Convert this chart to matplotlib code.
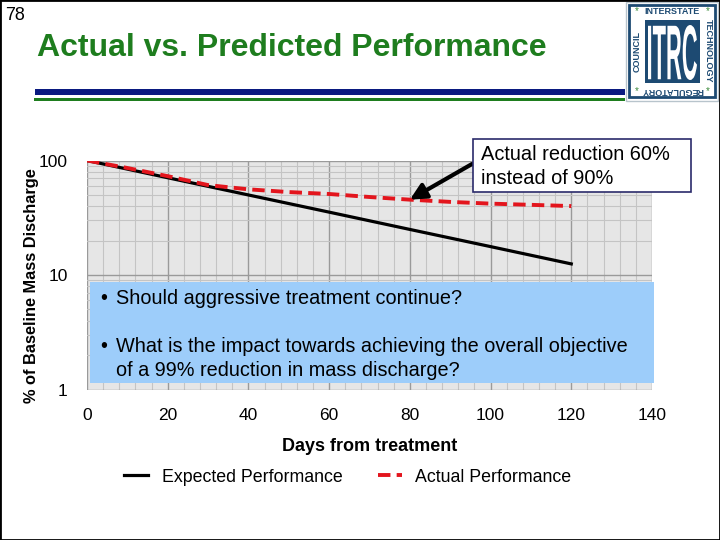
import matplotlib
matplotlib.use("Agg")
import matplotlib.pyplot as plt
from matplotlib.patches import Rectangle, PathPatch
from matplotlib.textpath import TextPath
from matplotlib.font_manager import FontProperties
from matplotlib.transforms import Affine2D
import numpy as np

plt.rcParams['font.family'] = ['Liberation Sans', 'DejaVu Sans']

# data
days_expected = [0, 20, 40, 60, 80, 100, 120]
expected = [100, 70.7, 50, 35.4, 25, 17.7, 12.5]

days_actual = [0, 10, 20, 30, 40, 50, 60, 70, 80, 90, 100, 110, 120]
actual = [100, 86, 73, 61, 56, 53, 51, 48, 45.5, 43.5, 42, 41, 40]

x_ticks = [0, 20, 40, 60, 80, 100, 120, 140]
y_ticks = [1, 10, 100]

W, H = 720, 540
fig = plt.figure(figsize=(7.2, 5.4), dpi=100)


def fx(px):
    return px / W


def fy(py):
    return 1 - py / H


# plot area
ax = fig.add_axes([fx(87), fy(389.5), fx(652 - 87), (389.5 - 160.5) / H])
ax.set_facecolor('#e6e6e6')
ax.set_yscale('log')
ax.set_xlim(0, 140)
ax.set_ylim(1, 100)
ax.set_xticks(x_ticks)
ax.set_xticks(np.arange(0, 141, 4), minor=True)
ax.set_yticks(y_ticks)
ax.set_yticklabels([str(v) for v in y_ticks])
ax.yaxis.set_minor_formatter(plt.NullFormatter())
ax.grid(which='minor', color='#c4c4c4', lw=0.8)
ax.grid(which='major', color='#9a9a9a', lw=1.0)
ax.set_axisbelow(True)
for s in ax.spines.values():
    s.set_visible(False)
ax.tick_params(which='both', length=0)
ax.tick_params(axis='y', labelsize=12.5, pad=14)
ax.tick_params(axis='x', labelsize=12.5, pad=13)

l1, = ax.plot(days_expected, expected, color='black', lw=2.3, label='Expected Performance')
l2, = ax.plot(days_actual, actual, color='#e3151d', lw=2.8, dashes=(3.2, 1.6),
              label='Actual Performance')

ax.set_xlabel('Days from treatment', fontsize=13, fontweight='bold', labelpad=11)

# arrow to the red curve
ax.annotate('', xy=(80, 45.5), xytext=(472, H - 164), textcoords='figure pixels',
            arrowprops=dict(arrowstyle='-|>', lw=3, color='black', mutation_scale=24,
                            shrinkA=0, shrinkB=0))

# callout box
fig.patches.append(Rectangle((fx(473), fy(192)), fx(691 - 473), (192 - 139) / H,
                             transform=fig.transFigure, facecolor='white',
                             edgecolor='#2b2b6b', lw=1.2, zorder=3))
fig.text(fx(481), fy(155), 'Actual reduction 60%', fontsize=14.4, va='center', zorder=4)
fig.text(fx(481), fy(178), 'instead of 90%', fontsize=14.4, va='center', zorder=4)

# blue question box
fig.patches.append(Rectangle((fx(90), fy(383)), fx(654 - 90), (383 - 282) / H,
                             transform=fig.transFigure, facecolor='#9dcdfa',
                             edgecolor='none', zorder=3))
fs_q = 14.3
fig.text(fx(100), fy(298), '•', fontsize=fs_q, va='center', zorder=4)
fig.text(fx(116), fy(298), 'Should aggressive treatment continue?', fontsize=fs_q,
         va='center', zorder=4)
fig.text(fx(100), fy(347), '•', fontsize=fs_q, va='center', zorder=4)
fig.text(fx(116), fy(347), 'What is the impact towards achieving the overall objective',
         fontsize=fs_q, va='center', zorder=4)
fig.text(fx(116), fy(371), 'of a 99% reduction in mass discharge?', fontsize=fs_q,
         va='center', zorder=4)

# y label
fig.text(fx(32), fy(286), '% of Baseline Mass Discharge', rotation=90, fontsize=11.8,
         fontweight='bold', ha='center', va='center')

# legend
fig.legend(handles=[l1, l2], loc='center', bbox_to_anchor=(fx(348), fy(477)), ncol=2,
           frameon=False, fontsize=12.8, handlelength=1.35, columnspacing=2.0,
           handletextpad=0.75)

# slide header
fig.text(fx(5), fy(15), '78', fontsize=13, va='center')
fig.text(fx(37), fy(48), 'Actual vs. Predicted Performance', fontsize=23,
         fontweight='bold', color='#1e7d1e', va='center')
fig.patches.append(Rectangle((fx(35), fy(95)), fx(625 - 35), 6 / H,
                             transform=fig.transFigure, facecolor='#0a1a80',
                             edgecolor='none'))
fig.patches.append(Rectangle((fx(34), fy(101)), fx(625 - 34), 3 / H,
                             transform=fig.transFigure, facecolor='#1e7d1e',
                             edgecolor='none'))

# ITRC logo
navy = '#1d4a72'
fig.patches.append(Rectangle((fx(626), fy(101)), fx(92), 99 / H, transform=fig.transFigure,
                             facecolor='white', edgecolor='#b8c4cc', lw=1))
fig.patches.append(Rectangle((fx(629), fy(97)), fx(86), 92 / H, transform=fig.transFigure,
                             facecolor='white', edgecolor=navy, lw=2))
fig.patches.append(Rectangle((fx(645), fy(83)), fx(55), 63 / H, transform=fig.transFigure,
                             facecolor=navy, edgecolor='none'))
tp = TextPath((0, 0), 'ITRC', size=10, prop=FontProperties(family='Liberation Sans',
                                                            weight='bold'))
ext = tp.get_extents()
sx = 49 / ext.width
sy = 55 / ext.height
tr = Affine2D().translate(-ext.x0, -ext.y0).scale(sx, sy).translate(648, H - 80)
fig.patches.append(PathPatch(tr.transform_path(tp), facecolor='white', edgecolor='none',
                             transform=None))
fig.text(fx(672), fy(11), 'INTERSTATE', fontsize=6.5, fontweight='bold', color=navy,
         ha='center', va='center')
fig.text(fx(672), fy(91), 'REGULATORY', fontsize=6.5, fontweight='bold', color=navy,
         ha='center', va='center', rotation=180)
fig.text(fx(637), fy(51), 'COUNCIL', fontsize=6.5, fontweight='bold', color=navy,
         ha='center', va='center', rotation=90)
fig.text(fx(708), fy(51), 'TECHNOLOGY', fontsize=6.5, fontweight='bold', color=navy,
         ha='center', va='center', rotation=-90)
for px, py in [(637, 11), (708, 11), (637, 91), (708, 91)]:
    fig.text(fx(px), fy(py), '*', fontsize=7, color='#3a8a3a', ha='center', va='center')

# slide frame
fig.patches.append(Rectangle((0, 0), 1, 1, transform=fig.transFigure, fill=False,
                             edgecolor='black', lw=2))

fig.savefig('out.png', dpi=100)
